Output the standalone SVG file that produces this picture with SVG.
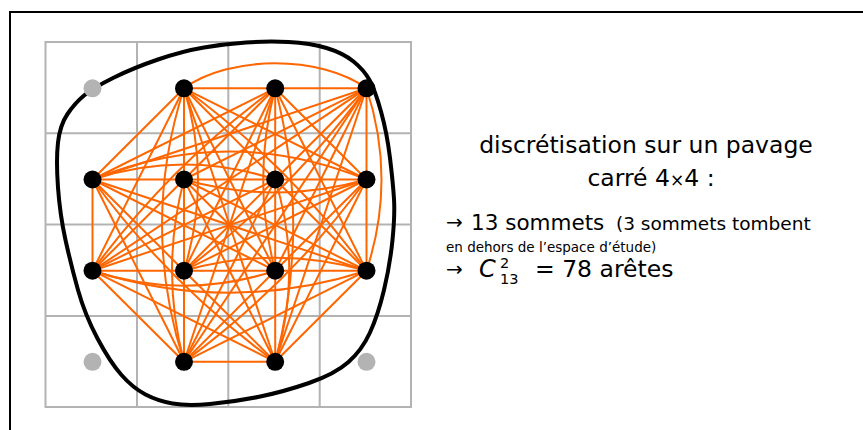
<svg xmlns="http://www.w3.org/2000/svg" width="863" height="430" viewBox="0 0 863 430">
<style>
.frame{fill:none;stroke:#000;stroke-width:2}
.grid{fill:none;stroke:#b3b3b3;stroke-width:2}
.blob{fill:none;stroke:#000;stroke-width:4}
.edge{fill:none;stroke:#ff6600;stroke-width:2}
.node{fill:#000}
.ghost{fill:#b3b3b3}
.t{font-family:"DejaVu Sans","Verdana",sans-serif;fill:#000}
</style>
<rect width="863" height="430" fill="#fff"/>
<path class="frame" d="M10,430 V12 H863"/>
<g id="grid" class="grid">
<rect x="45.5" y="42" width="365.5" height="365"/>
<path d="M137,42 V407 M228.3,42 V407 M319.7,42 V407 M45.5,133.3 H411 M45.5,224.6 H411 M45.5,315.9 H411"/>
</g>
<path id="domain" class="blob" d="M65.5,240 Q60,215 58,187.5 Q56,160 58,142.5 Q60,125 67.5,114 Q75,103 84,95.5 Q93,88 113,78 Q133,68 158,59.5 Q183,51 204,47.5 Q225,44 246,42.5 Q267,41 288.5,42 Q310,43 326.5,48 Q343,53 353.5,61.5 Q364,70 369.5,80 Q375,90 381,111.5 Q387,133 390,158 Q393,183 394,199 Q395,215 392.5,240 Q390,265 384,290 Q378,315 370,332.5 Q362,350 348.5,362 Q335,374 309,383 Q283,392 258,397 Q233,402 210,404 Q187,406 172.5,403.5 Q158,401 145.5,394.5 Q133,388 121.5,375 Q110,362 97.5,338.5 Q85,315 78,290 Q71,265 65.5,240 Z"/>
<g id="edges" class="edge">
<line x1="184" y1="88.3" x2="275.2" y2="88.3"/>
<line x1="184" y1="88.3" x2="92.5" y2="179.5"/>
<line x1="184" y1="88.3" x2="184" y2="179.5"/>
<line x1="184" y1="88.3" x2="275.2" y2="179.5"/>
<line x1="184" y1="88.3" x2="366.5" y2="179.5"/>
<line x1="184" y1="88.3" x2="92.5" y2="270.7"/>
<line x1="184" y1="88.3" x2="275.2" y2="270.7"/>
<line x1="184" y1="88.3" x2="275.2" y2="361.8"/>
<line x1="275.2" y1="88.3" x2="366.5" y2="88.3"/>
<line x1="275.2" y1="88.3" x2="92.5" y2="179.5"/>
<line x1="275.2" y1="88.3" x2="184" y2="179.5"/>
<line x1="275.2" y1="88.3" x2="275.2" y2="179.5"/>
<line x1="275.2" y1="88.3" x2="366.5" y2="179.5"/>
<line x1="275.2" y1="88.3" x2="184" y2="270.7"/>
<line x1="275.2" y1="88.3" x2="366.5" y2="270.7"/>
<line x1="275.2" y1="88.3" x2="184" y2="361.8"/>
<line x1="366.5" y1="88.3" x2="92.5" y2="179.5"/>
<line x1="366.5" y1="88.3" x2="184" y2="179.5"/>
<line x1="366.5" y1="88.3" x2="275.2" y2="179.5"/>
<line x1="366.5" y1="88.3" x2="366.5" y2="179.5"/>
<line x1="366.5" y1="88.3" x2="92.5" y2="270.7"/>
<line x1="366.5" y1="88.3" x2="275.2" y2="270.7"/>
<line x1="366.5" y1="88.3" x2="184" y2="361.8"/>
<line x1="366.5" y1="88.3" x2="275.2" y2="361.8"/>
<line x1="92.5" y1="179.5" x2="184" y2="179.5"/>
<line x1="92.5" y1="179.5" x2="92.5" y2="270.7"/>
<line x1="92.5" y1="179.5" x2="184" y2="270.7"/>
<line x1="92.5" y1="179.5" x2="275.2" y2="270.7"/>
<line x1="92.5" y1="179.5" x2="366.5" y2="270.7"/>
<line x1="92.5" y1="179.5" x2="184" y2="361.8"/>
<line x1="184" y1="179.5" x2="275.2" y2="179.5"/>
<line x1="184" y1="179.5" x2="92.5" y2="270.7"/>
<line x1="184" y1="179.5" x2="184" y2="270.7"/>
<line x1="184" y1="179.5" x2="275.2" y2="270.7"/>
<line x1="184" y1="179.5" x2="366.5" y2="270.7"/>
<line x1="184" y1="179.5" x2="275.2" y2="361.8"/>
<line x1="275.2" y1="179.5" x2="366.5" y2="179.5"/>
<line x1="275.2" y1="179.5" x2="92.5" y2="270.7"/>
<line x1="275.2" y1="179.5" x2="184" y2="270.7"/>
<line x1="275.2" y1="179.5" x2="275.2" y2="270.7"/>
<line x1="275.2" y1="179.5" x2="366.5" y2="270.7"/>
<line x1="275.2" y1="179.5" x2="184" y2="361.8"/>
<line x1="366.5" y1="179.5" x2="92.5" y2="270.7"/>
<line x1="366.5" y1="179.5" x2="184" y2="270.7"/>
<line x1="366.5" y1="179.5" x2="275.2" y2="270.7"/>
<line x1="366.5" y1="179.5" x2="366.5" y2="270.7"/>
<line x1="366.5" y1="179.5" x2="275.2" y2="361.8"/>
<line x1="92.5" y1="270.7" x2="184" y2="270.7"/>
<line x1="92.5" y1="270.7" x2="184" y2="361.8"/>
<line x1="92.5" y1="270.7" x2="275.2" y2="361.8"/>
<line x1="184" y1="270.7" x2="275.2" y2="270.7"/>
<line x1="184" y1="270.7" x2="184" y2="361.8"/>
<line x1="184" y1="270.7" x2="275.2" y2="361.8"/>
<line x1="275.2" y1="270.7" x2="366.5" y2="270.7"/>
<line x1="275.2" y1="270.7" x2="184" y2="361.8"/>
<line x1="275.2" y1="270.7" x2="275.2" y2="361.8"/>
<line x1="366.5" y1="270.7" x2="184" y2="361.8"/>
<line x1="366.5" y1="270.7" x2="275.2" y2="361.8"/>
<line x1="184" y1="361.8" x2="275.2" y2="361.8"/>
<path d="M184,88.3 C230,55 320,55 366.5,88.3"/>
<path d="M92.5,179.5 C153.4,159.5 214.3,159.5 275.2,179.5"/>
<path d="M92.5,179.5 C183.8,142.2 275.2,142.2 366.5,179.5"/>
<path d="M184,179.5 C244.8,196.8 305.7,196.8 366.5,179.5"/>
<path d="M184,270.7 C244.8,253.4 305.7,253.4 366.5,270.7"/>
<path d="M92.5,270.7 C153.4,290.7 214.3,290.7 275.2,270.7"/>
<path d="M92.5,270.7 C183.8,300 275.2,300 366.5,270.7"/>
<path d="M184,88.3 C202.7,149.1 202.7,209.9 184,270.7"/>
<path d="M184,179.5 C168,240.3 168,301 184,361.8"/>
<path d="M184,88.3 C154.7,179.5 154.7,270.6 184,361.8"/>
<path d="M275.2,88.3 C259.2,149.1 259.2,209.9 275.2,270.7"/>
<path d="M275.2,179.5 C293.9,240.3 293.9,301 275.2,361.8"/>
<path d="M275.2,88.3 C299.2,179.5 299.2,270.6 275.2,361.8"/>
<path d="M366.5,88.3 C386.5,149.1 386.5,209.9 366.5,270.7"/>
<path d="M184,88.3 Q289.4,165.4 366.5,270.7"/>
<path d="M275.2,88.3 Q169.7,165.4 92.5,270.7"/>
<path d="M92.5,179.5 Q169.7,284.8 275.2,361.8"/>
<path d="M366.5,179.5 Q289.4,284.8 184,361.8"/>
<path d="M366.5,88.3 Q289.4,193.6 184,270.7"/>
</g>
<g id="out1"><circle class="ghost" cx="92.5" cy="88.3" r="9"/></g>
<g id="out2"><circle class="ghost" cx="92.5" cy="361.8" r="9"/></g>
<g id="out3"><circle class="ghost" cx="366.5" cy="361.8" r="9"/></g>
<g id="nA"><circle class="node" cx="184" cy="88.3" r="9"/></g>
<g id="nB"><circle class="node" cx="275.2" cy="88.3" r="9"/></g>
<g id="nC"><circle class="node" cx="366.5" cy="88.3" r="9"/></g>
<g id="nD"><circle class="node" cx="92.5" cy="179.5" r="9"/></g>
<g id="nE"><circle class="node" cx="184" cy="179.5" r="9"/></g>
<g id="nF"><circle class="node" cx="275.2" cy="179.5" r="9"/></g>
<g id="nG"><circle class="node" cx="366.5" cy="179.5" r="9"/></g>
<g id="nH"><circle class="node" cx="92.5" cy="270.7" r="9"/></g>
<g id="nI"><circle class="node" cx="184" cy="270.7" r="9"/></g>
<g id="nJ"><circle class="node" cx="275.2" cy="270.7" r="9"/></g>
<g id="nK"><circle class="node" cx="366.5" cy="270.7" r="9"/></g>
<g id="nL"><circle class="node" cx="184" cy="361.8" r="9"/></g>
<g id="nM"><circle class="node" cx="275.2" cy="361.8" r="9"/></g>
<g id="caption" class="t">
<text x="646" y="153" font-size="23.5" text-anchor="middle">discrétisation sur un pavage</text>
<text x="651" y="186" font-size="23.5" text-anchor="middle">carré 4<tspan font-size="17">×</tspan>4 :</text>
<text x="446" y="229" font-size="20">→</text>
<text x="471" y="230" font-size="21.5">13 sommets</text>
<text x="616" y="230" font-size="18.5">(3 sommets tombent</text>
<text x="446" y="252" font-size="13.5">en dehors de l’espace d’étude)</text>
<text x="446" y="276" font-size="20">→</text>
<text x="479" y="277" font-size="24" font-style="italic">C</text>
<text x="500" y="267.5" font-size="14.5">2</text>
<text x="500" y="284" font-size="14.5">13</text>
<text x="535" y="277" font-size="23.5">= 78 arêtes</text>
</g>
</svg>
